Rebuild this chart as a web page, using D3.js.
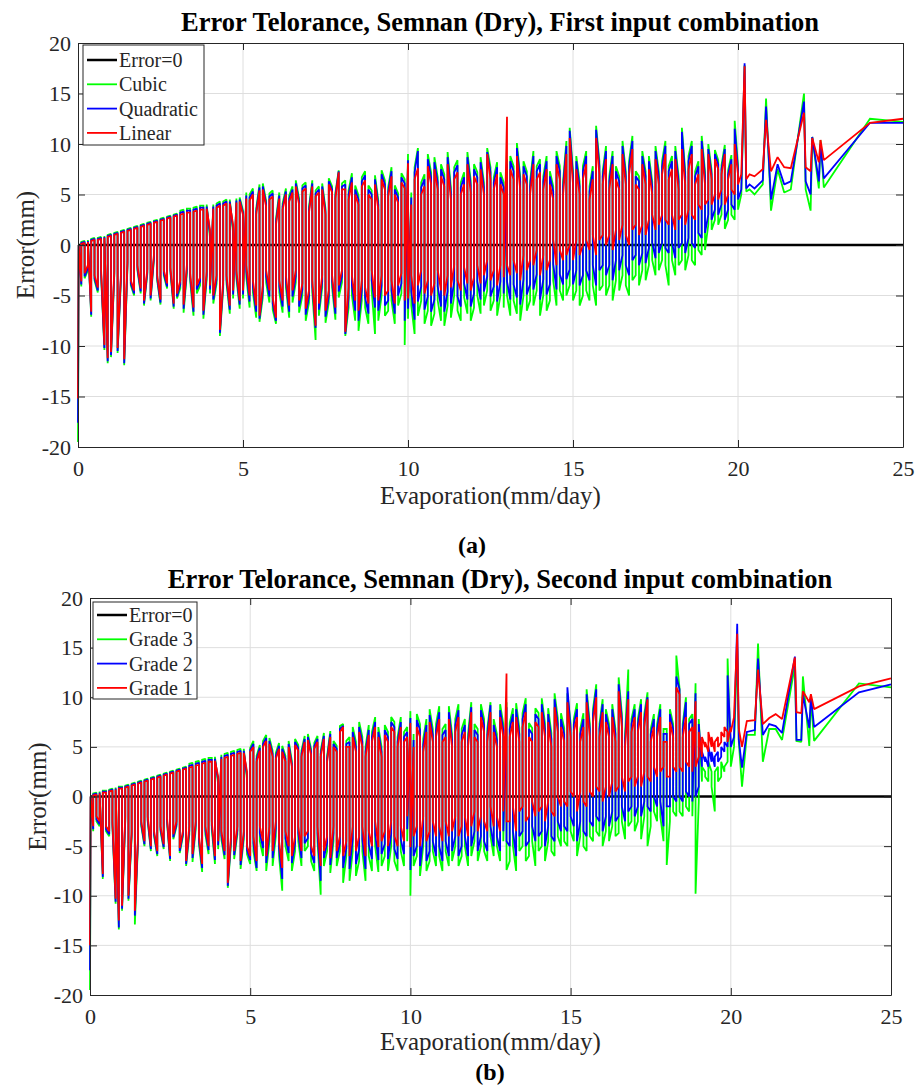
<!DOCTYPE html>
<html>
<head>
<meta charset="utf-8">
<script src="https://cdn.jsdelivr.net/npm/d3@7"></script>
<style>
body { margin: 0; background: #fff; }
svg { display: block; }
</style>
</head>
<body>
<svg id="chart" width="919" height="1086"></svg>
<script>
// observed evaporation (mm/day), shared by both panels; most days come in pairs
const evap = [0, 0.02,
    0.1, 0.1, 0.2, 0.2, 0.3, 0.3, 0.4, 0.4, 0.5, 0.5, 0.6, 0.6, 0.7, 0.7, 0.8, 0.8, 0.9, 0.9, 1.0, 1.0,
    1.1, 1.1, 1.2, 1.2, 1.3, 1.3, 1.4, 1.4, 1.5, 1.5, 1.6, 1.6, 1.7, 1.7, 1.8, 1.8, 1.9, 1.9, 2.0, 2.0,
    2.1, 2.1, 2.2, 2.2, 2.3, 2.3, 2.4, 2.4, 2.5, 2.5, 2.6, 2.6, 2.7, 2.7, 2.8, 2.8, 2.9, 2.9, 3.0, 3.0,
    3.1, 3.1, 3.2, 3.2, 3.3, 3.3, 3.4, 3.4, 3.5, 3.5, 3.6, 3.6, 3.7, 3.7, 3.8, 3.8, 3.9, 3.9, 4.0, 4.0,
    4.1, 4.1, 4.2, 4.2, 4.3, 4.3, 4.4, 4.4, 4.5, 4.5, 4.6, 4.6, 4.7, 4.7, 4.8, 4.8, 4.9, 4.9, 5.0, 5.0,
    5.1, 5.1, 5.2, 5.2, 5.3, 5.3, 5.4, 5.4, 5.5, 5.5, 5.6, 5.6, 5.7, 5.7, 5.8, 5.8, 5.9, 5.9, 6.0, 6.0,
    6.1, 6.1, 6.2, 6.2, 6.3, 6.3, 6.4, 6.4, 6.5, 6.5, 6.6, 6.6, 6.7, 6.7, 6.8, 6.8, 6.9, 6.9, 7.0, 7.0,
    7.1, 7.1, 7.2, 7.2, 7.3, 7.3, 7.4, 7.4, 7.5, 7.5, 7.6, 7.6, 7.7, 7.7, 7.8, 7.8, 7.9, 7.9, 8.0, 8.0,
    8.1, 8.1, 8.2, 8.2, 8.3, 8.3, 8.4, 8.4, 8.5, 8.5, 8.6, 8.6, 8.7, 8.7, 8.8, 8.8, 8.9, 8.9, 9.0, 9.0,
    9.1, 9.1, 9.2, 9.2, 9.3, 9.3, 9.4, 9.4, 9.5, 9.5, 9.6, 9.6, 9.7, 9.7, 9.8, 9.8, 9.9, 9.9, 10.0, 10.0,
    10.1, 10.1, 10.2, 10.2, 10.3, 10.3, 10.4, 10.4, 10.5, 10.5, 10.6, 10.6, 10.7, 10.7, 10.8, 10.8, 10.9, 10.9, 11.0, 11.0,
    11.1, 11.1, 11.2, 11.2, 11.3, 11.3, 11.4, 11.4, 11.5, 11.5, 11.6, 11.6, 11.7, 11.7, 11.8, 11.8, 11.9, 11.9, 12.0, 12.0,
    12.1, 12.1, 12.2, 12.2, 12.3, 12.3, 12.4, 12.4, 12.5, 12.5, 12.6, 12.6, 12.7, 12.7, 12.8, 12.8, 12.9, 12.9, 13.0, 13.0,
    13.1, 13.1, 13.2, 13.2, 13.3, 13.3, 13.4, 13.4, 13.5, 13.5, 13.6, 13.6, 13.7, 13.7, 13.8, 13.8, 13.9, 13.9, 14.0, 14.0,
    14.1, 14.1, 14.2, 14.2, 14.3, 14.3, 14.4, 14.4, 14.5, 14.5, 14.6, 14.6, 14.7, 14.7, 14.8, 14.8, 14.9, 14.9, 15.0, 15.0,
    15.1, 15.1, 15.2, 15.2, 15.3, 15.3, 15.4, 15.4, 15.5, 15.5, 15.6, 15.6, 15.7, 15.7, 15.8, 15.8, 15.9, 15.9, 16.0, 16.0,
    16.1, 16.1, 16.2, 16.2, 16.3, 16.3, 16.4, 16.4, 16.5, 16.5, 16.6, 16.6, 16.7, 16.7, 16.8, 16.8, 16.9, 16.9, 17.0, 17.0,
    17.1, 17.1, 17.2, 17.2, 17.3, 17.3, 17.4, 17.4, 17.5, 17.5, 17.6, 17.6, 17.7, 17.7, 17.8, 17.8, 17.9, 17.9, 18.0, 18.0,
    18.1, 18.1, 18.2, 18.2, 18.3, 18.3, 18.4, 18.4, 18.5, 18.5, 18.6, 18.6, 18.7, 18.7, 18.8, 18.8, 18.9, 18.9, 19.0, 19.0,
    19.1, 19.1, 19.2, 19.2, 19.3, 19.3, 19.4, 19.4, 19.5, 19.5, 19.6, 19.6, 19.7, 19.7, 19.8, 19.8, 19.9, 19.9, 20.0, 20.0,
    20.1,
    20.2, 20.25, 20.35, 20.5, 20.75, 20.85, 21.0, 21.2, 21.4, 21.6, 22.0, 22.05, 22.2, 22.25, 22.45, 22.5, 22.6, 24.0, 25.0]

// panel (a): first input combination, error (mm)
const cubicErr = [-19.5, 0.0,
    -4.1, 0.3, 0.4, -3.3, -2.5, 0.5, -7.1, 0.6, 0.7, -3.5, -4.7, 0.7, 0.8, -3.0, -10.4, 0.9, -11.7, 1.0, 1.1, -11.1,
    -3.0, 1.2, 1.3, -10.7, -3.5, 1.4, 1.5, -11.9, -2.0, 1.6, 1.7, -4.0, -5.0, 1.8, 1.9, -2.5, -4.8, 2.0, 2.1, -6.0,
    -2.9, 2.2, 2.3, -5.5, -1.5, 2.4, 2.5, -3.5, -5.9, 2.6, 2.7, -3.0, -4.3, 2.8, 2.9, -2.7, -6.3, 3.0, 3.1, -5.3,
    -4.3, 3.4, 3.5, -6.7, -2.8, 3.6, 3.6, -3.6, -7.0, 3.7, 3.8, -4.8, -4.0, 3.9, 3.9, -7.3, -3.4, 4.0, 0.7, -4.8,
    4.0, -5.8, -3.8, 4.1, 4.3, -9.0, -4.3, 4.3, 4.5, -3.8, -6.8, 4.5, 1.2, -5.3, 4.6, -3.3, -6.3, 4.7, 3.4, -5.3,
    5.2, -3.2, -6.2, 5.0, 5.6, -4.7, -7.2, 3.6, 6.0, -7.6, -5.2, 6.1, 4.4, -3.7, -5.7, 5.1, 5.4, -6.4, -7.8, 2.6,
    5.2, -4.7, -6.7, 4.1, 5.6, -4.2, -7.2, 4.9, 5.8, -5.7, -3.7, 6.4, 4.6, -6.7, -5.0, 5.9, 6.2, -7.5, -5.7, 3.8,
    6.4, -4.7, -9.4, 5.4, 5.8, -7.0, -4.2, 6.1, 3.6, -7.7, -5.7, 6.6, 5.8, -4.2, -7.4, 5.2, 7.4, -5.2, -3.7, 6.1,
    6.4, -9.0, -6.2, 5.4, 7.1, -5.0, -7.5, 5.9, 4.9, -8.5, -5.5, 6.7, 7.3, -6.2, -7.8, 5.9, 5.4, -4.5, -8.8, 6.9,
    4.4, -7.5, -5.0, 7.4, 6.4, -7.0, -6.5, 5.7, 7.7, -5.5, -7.8, 5.9, 5.1, -6.0, -4.8, 7.1, 6.5, -9.9, 9.0, -7.3,
    5.2, -6.0, -8.8, 7.7, 9.6, -7.0, -5.5, 6.2, 7.0, -7.8, -6.5, 9.0, 7.2, -8.0, -6.8, 8.7, 6.7, -5.5, -7.5, 8.0,
    7.0, -8.0, -6.0, 9.2, 5.7, -7.2, -5.0, 7.7, 8.4, -6.5, -7.5, 6.2, 7.2, -5.2, -6.8, 9.2, 6.4, -7.5, -6.2, 8.0,
    7.2, -5.0, -6.8, 8.7, 6.2, -6.0, -4.5, 9.6, 7.7, -6.5, -5.5, 6.7, 8.2, -7.0, -5.0, 7.2, 6.2, -6.2, 8.5, -5.0,
    -7.0, 8.8, 7.8, -5.5, -6.8, 10.1, 6.8, -7.5, -5.0, 8.3, 7.3, -6.5, -5.5, 6.3, 9.3, -6.0, -4.5, 7.8, 8.5, -7.0,
    -5.0, 6.8, 8.8, -6.5, -5.5, 7.3, 5.8, -3.5, -6.0, 9.3, 7.8, -4.5, -5.5, 6.3, 10.3, -5.0, -4.0, 11.6, 7.3, -5.5,
    -4.5, 8.8, 6.3, -6.0, -5.0, 7.8, 9.3, -4.5, -5.5, 5.8, 7.8, -4.0, -6.0, 11.8, 8.3, -4.5, -4.0, 7.3, 9.8, -5.0,
    -4.0, 6.8, 9.3, -5.5, -3.5, 7.8, 6.8, -4.5, -3.0, 10.3, 7.3, -4.0, -5.0, 8.3, 10.8, -3.5, -3.0, 7.3, 6.8, -4.0,
    -2.5, 9.3, 7.3, -3.5, -2.0, 8.8, 6.3, -1.5, -3.0, 9.8, 7.3, -2.5, -1.5, 8.3, 10.3, -2.0, -4.0, 7.8, 8.8, -1.5,
    -3.0, 9.8, 6.8, -2.0, -1.5, 11.6, 7.3, -2.5, -1.0, 8.8, 10.3, -1.5, -2.0, 7.3, 8.3, -0.5, -1.0, 10.8, 7.3, -0.5,
    2.0, 10.0, 7.4, 1.5, 2.5, 9.4, 8.4, 2.0, 3.0, 7.9, 9.9, 1.6, 2.5, 7.4, 8.9, 3.0, 2.5, 12.3, 7.9, 3.5,
    5.0,
    17.8, 5.3, 5.5, 5.0, 6.0, 14.5, 3.4, 7.5, 5.2, 5.5, 15.0, 5.5, 3.4, 10.7, 5.6, 10.4, 5.7, 12.5, 12.2]
const quadErr = [-17.6, 0.0,
    -3.9, 0.2, 0.3, -3.1, -2.3, 0.4, -6.9, 0.5, 0.6, -3.3, -4.5, 0.6, 0.7, -2.8, -10.2, 0.8, -11.5, 0.9, 1.0, -10.9,
    -2.8, 1.1, 1.2, -10.5, -3.3, 1.3, 1.4, -11.7, -1.8, 1.5, 1.6, -3.8, -4.8, 1.7, 1.8, -2.3, -4.6, 1.9, 2.0, -5.8,
    -2.7, 2.1, 2.2, -5.3, -1.3, 2.3, 2.4, -3.3, -5.7, 2.5, 2.6, -2.8, -4.1, 2.7, 2.8, -2.5, -6.1, 2.9, 3.0, -5.1,
    -3.9, 3.2, 3.3, -6.3, -2.4, 3.4, 3.4, -3.2, -6.6, 3.5, 3.6, -4.4, -3.6, 3.7, 3.7, -6.9, -3.0, 3.8, 1.1, -4.4,
    3.8, -5.4, -3.4, 3.9, 4.1, -8.7, -3.9, 4.1, 4.3, -3.4, -6.4, 4.3, 1.6, -4.9, 4.4, -2.9, -5.9, 4.5, 3.2, -4.9,
    4.9, -2.6, -5.6, 4.7, 5.3, -4.1, -6.6, 3.3, 5.7, -7.3, -4.6, 5.8, 4.1, -3.1, -5.1, 4.8, 5.1, -5.8, -7.5, 2.3,
    4.9, -4.1, -6.1, 3.8, 5.3, -3.6, -6.6, 4.6, 5.5, -5.1, -3.1, 6.1, 4.3, -6.1, -4.4, 5.6, 5.9, -6.9, -5.1, 3.5,
    6.1, -4.1, -8.2, 5.1, 5.5, -6.4, -3.6, 5.8, 3.3, -7.1, -5.1, 6.3, 5.5, -3.6, -6.8, 4.9, 7.3, -4.6, -3.1, 5.8,
    6.0, -8.8, -5.2, 5.0, 6.7, -4.0, -6.5, 5.5, 4.5, -7.5, -4.5, 6.3, 6.9, -5.2, -6.8, 5.5, 5.0, -3.5, -6.2, 6.5,
    4.0, -6.5, -4.0, 7.0, 6.0, -6.0, -5.5, 5.3, 7.3, -4.5, -6.8, 5.5, 4.7, -5.0, -3.8, 6.7, 6.1, -7.5, 8.4, -6.3,
    4.7, -4.6, -7.4, 7.2, 9.3, -5.6, -4.1, 5.7, 6.5, -6.4, -5.1, 8.5, 6.7, -6.6, -5.4, 8.2, 6.2, -4.1, -6.1, 7.5,
    6.5, -6.6, -4.6, 8.7, 5.2, -5.8, -3.6, 7.2, 7.9, -5.1, -6.1, 5.7, 6.7, -3.8, -5.4, 8.7, 5.9, -6.1, -4.8, 7.5,
    6.7, -3.6, -5.4, 8.2, 5.7, -4.6, -3.1, 9.2, 7.2, -5.1, -4.1, 6.2, 7.7, -5.6, -3.6, 6.7, 5.7, -4.8, 8.0, -3.6,
    -5.4, 8.3, 7.3, -3.9, -5.2, 9.6, 6.3, -5.9, -3.4, 7.8, 6.8, -4.9, -3.9, 5.8, 8.8, -4.4, -2.9, 7.3, 8.0, -5.4,
    -3.4, 6.3, 8.3, -4.9, -3.9, 6.8, 5.3, -1.9, -4.4, 8.8, 7.3, -2.9, -3.9, 5.8, 9.8, -3.4, -2.4, 11.3, 6.8, -3.9,
    -2.5, 8.3, 5.8, -4.0, -3.0, 7.3, 8.8, -2.5, -3.5, 5.3, 7.3, -2.0, -4.0, 11.4, 7.8, -2.5, -2.0, 6.8, 9.3, -3.0,
    -2.0, 6.3, 8.8, -3.5, -1.5, 7.3, 6.3, -2.5, -1.0, 9.8, 6.8, -2.0, -3.0, 7.8, 10.3, -1.5, -1.0, 6.8, 6.3, -2.0,
    -0.8, 8.8, 6.8, -1.8, -0.3, 8.3, 5.8, 0.2, -1.3, 9.3, 6.8, -0.8, 0.2, 7.8, 9.8, -0.3, -0.8, 7.3, 8.3, 0.2,
    -1.3, 9.3, 6.3, -0.3, 0.2, 11.2, 6.8, -0.8, 0.7, 8.3, 9.8, 0.2, -0.3, 6.8, 7.8, 1.2, 0.7, 10.3, 6.8, 1.2,
    3.0, 9.5, 7.0, 2.5, 3.5, 9.0, 8.0, 3.0, 4.0, 7.5, 9.5, 2.5, 3.5, 7.0, 8.5, 4.0, 3.5, 11.5, 7.5, 4.5,
    5.5,
    18.0, 5.6, 6.0, 5.6, 6.4, 13.7, 4.5, 8.0, 6.0, 6.3, 14.2, 6.3, 5.0, 10.7, 6.3, 10.0, 6.6, 12.1, 12.1]
const linErr = [-15.2, 0.0,
    -3.6, 0.1, 0.2, -2.8, -2.0, 0.3, -6.6, 0.4, 0.5, -3.0, -4.2, 0.5, 0.6, -2.5, -9.9, 0.7, -11.2, 0.8, 0.9, -10.6,
    -2.5, 1.0, 1.1, -10.2, -3.0, 1.2, 1.3, -11.3, -1.5, 1.4, 1.5, -3.5, -4.5, 1.6, 1.7, -2.0, -4.3, 1.8, 1.9, -5.5,
    -2.4, 2.0, 2.1, -5.0, -1.0, 2.2, 2.3, -3.0, -5.4, 2.4, 2.5, -2.5, -3.8, 2.6, 2.7, -2.2, -5.8, 2.8, 2.9, -4.8,
    -3.5, 3.0, 3.1, -5.9, -2.0, 3.2, 3.2, -2.8, -6.2, 3.3, 3.4, -4.0, -3.2, 3.5, 3.5, -6.5, -2.6, 3.6, 1.5, -4.0,
    3.6, -5.0, -3.0, 3.7, 3.9, -8.4, -3.5, 3.9, 4.1, -3.0, -6.0, 4.1, 2.0, -4.5, 4.2, -2.5, -5.5, 4.3, 3.0, -4.5,
    4.6, -2.0, -5.0, 4.4, 5.0, -3.5, -6.0, 3.0, 5.4, -7.0, -4.0, 5.5, 3.8, -2.5, -4.5, 4.5, 4.8, -5.2, -7.2, 2.0,
    4.6, -3.5, -5.5, 3.5, 5.0, -3.0, -6.0, 4.3, 5.2, -4.5, -2.5, 5.8, 4.0, -5.5, -3.8, 5.3, 5.6, -6.3, -4.5, 3.2,
    5.8, -3.5, -8.0, 4.8, 5.2, -5.8, -3.0, 5.5, 3.0, -6.5, -4.5, 6.0, 5.2, -3.0, -6.2, 4.6, 7.2, -4.0, -2.5, 5.5,
    5.5, -8.6, -4.2, 4.5, 6.2, -3.0, -5.5, 5.0, 4.0, -6.5, -3.5, 5.8, 6.4, -4.2, -5.8, 5.0, 4.5, -2.5, -5.2, 6.0,
    3.5, -5.5, -3.0, 6.5, 5.5, -5.0, -4.5, 4.8, 6.8, -3.5, -5.8, 5.0, 4.2, -4.0, -2.8, 6.2, 5.6, -5.5, 8.1, -5.3,
    4.0, -3.0, -5.8, 6.5, 7.6, -4.0, -2.5, 5.0, 5.8, -4.8, -3.5, 7.8, 6.0, -5.0, -3.8, 7.5, 5.5, -2.5, -4.5, 6.8,
    5.8, -5.0, -3.0, 8.0, 4.5, -4.2, -2.0, 6.5, 7.2, -3.5, -4.5, 5.0, 6.0, -2.2, -3.8, 8.0, 5.2, -4.5, -3.2, 6.8,
    6.0, -2.0, -3.8, 7.5, 5.0, -3.0, -1.5, 9.0, 6.5, -3.5, -2.5, 5.5, 7.0, -4.0, -2.0, 6.0, 5.0, -3.2, 12.7, -2.0,
    -3.0, 7.5, 6.5, -1.5, -2.8, 8.8, 5.5, -3.5, -1.0, 7.0, 6.0, -2.5, -1.5, 5.0, 8.0, -2.0, -0.5, 6.5, 7.2, -3.0,
    -1.0, 5.5, 7.5, -2.5, -1.5, 6.0, 4.5, 0.5, -2.0, 8.0, 6.5, -0.5, -1.5, 5.0, 9.0, -1.0, 0.0, 10.6, 6.0, -1.5,
    0.5, 7.5, 5.0, -1.0, 0.0, 6.5, 8.0, 0.5, -0.5, 4.5, 6.5, 1.0, -1.0, 10.6, 7.0, 0.5, 1.0, 6.0, 8.5, 0.0,
    1.0, 5.5, 8.0, -0.5, 1.5, 6.5, 5.5, 0.5, 2.0, 9.0, 6.0, 1.0, 0.0, 7.0, 9.5, 1.5, 2.0, 6.0, 5.5, 1.0,
    2.0, 8.0, 6.0, 1.0, 2.5, 7.5, 5.0, 3.0, 1.5, 8.5, 6.0, 2.0, 3.0, 7.0, 9.0, 2.5, 2.0, 6.5, 7.5, 3.0,
    1.5, 8.5, 5.5, 2.5, 3.0, 9.5, 6.0, 2.0, 3.5, 7.5, 9.0, 3.0, 2.5, 6.0, 7.0, 4.0, 3.5, 9.5, 6.0, 4.0,
    4.5, 9.0, 6.5, 4.0, 5.0, 8.5, 7.5, 4.5, 5.5, 7.0, 9.0, 4.0, 5.0, 6.5, 8.0, 5.5, 5.0, 10.0, 7.0, 6.0,
    7.0,
    17.7, 6.5, 7.0, 6.8, 7.5, 12.4, 7.3, 8.7, 7.7, 7.6, 13.1, 7.7, 7.3, 10.6, 8.2, 10.4, 8.4, 12.1, 12.5]

// panel (b): second input combination, error (mm)
const grade3Err = [-19.5, 0.0,
    -3.5, 0.3, 0.4, -2.5, -3.0, 0.5, -8.3, 0.6, 0.6, -3.5, -4.0, 0.7, 0.8, -3.0, -10.8, 0.9, -13.4, 1.0, 1.0, -11.5,
    -2.5, 1.1, 1.2, -10.5, -4.0, 1.3, 1.4, -12.9, -4.5, 1.5, 1.6, -3.0, -5.0, 1.7, 1.8, -2.5, -5.5, 1.9, 2.0, -4.0,
    -6.0, 2.1, 2.2, -3.5, -5.3, 2.3, 2.4, -2.5, -6.5, 2.5, 2.6, -4.3, -3.0, 2.7, 2.8, -5.7, -4.0, 2.9, 3.0, -7.0,
    -3.8, 3.3, 3.4, -6.6, -3.3, 3.5, 3.6, -4.8, -7.6, 3.7, 3.8, -3.8, -5.8, 3.9, 3.9, -3.3, -6.8, 4.0, 1.2, -5.3,
    4.2, -4.3, -6.3, 4.3, 4.4, -9.2, -4.8, 4.5, 4.6, -6.3, -3.8, 4.7, 4.8, -7.3, -4.3, 4.8, 1.7, -5.8, -6.8, 4.9,
    5.6, -5.5, -7.5, 4.1, 5.2, -4.5, -6.0, 5.6, 6.2, -7.5, -4.5, 5.9, 4.6, -7.0, -4.0, 4.4, 5.4, -6.0, -9.5, 5.1,
    4.1, -5.0, -6.5, 5.6, 3.6, -7.5, -5.5, 5.8, 5.2, -4.5, -7.0, 4.6, 6.1, -5.5, -5.0, 6.3, 4.8, -6.5, -7.5, 5.4,
    6.1, -4.5, -9.9, 4.6, 6.4, -7.0, -5.5, 4.1, 6.6, -7.7, -4.5, 5.6, 5.1, -7.0, -5.5, 7.1, 7.3, -8.7, -6.0, 5.6,
    6.0, -8.5, -5.5, 7.0, 5.5, -8.0, -6.5, 7.5, 6.0, -5.5, -8.5, 5.0, 7.2, -6.0, -7.5, 6.5, 8.0, -5.0, -7.6, 7.0,
    5.0, -7.0, -6.0, 7.2, 6.5, -7.5, -5.0, 8.0, 7.5, -6.5, -7.5, 6.0, 8.0, -5.5, -7.0, 6.5, 7.0, -4.5, 8.6, -10.0,
    6.3, -7.0, -6.0, 8.3, 7.3, -8.0, -5.0, 5.8, 7.8, -7.5, -6.5, 8.8, 6.8, -5.5, -7.0, 7.3, 9.1, -6.0, -7.5, 6.8,
    7.3, -5.5, -7.0, 9.1, 6.3, -6.5, -5.0, 7.8, 9.3, -7.0, -6.0, 6.8, 7.8, -5.0, -7.0, 6.3, 9.5, -6.0, -4.5, 7.3,
    6.8, -6.5, -5.0, 9.3, 7.8, -5.5, -6.5, 6.8, 9.5, -4.0, -6.0, 7.8, 6.3, -5.0, -6.5, 9.3, 7.3, -4.5, 9.5, -7.4,
    -6.5, 7.4, 8.9, -5.0, -7.5, 9.4, 6.9, -5.5, -5.0, 8.4, 9.9, -6.5, -6.0, 7.4, 6.9, -4.5, -7.0, 8.9, 8.4, -5.5,
    -5.0, 9.9, 7.4, -6.5, -4.5, 8.9, 6.4, -5.5, -6.0, 10.4, 7.9, -4.0, -5.0, 8.4, 6.9, -4.5, -5.0, 10.4, 7.4, -3.5,
    -4.5, 7.8, 9.4, -6.0, -4.0, 6.8, 8.4, -5.0, -5.5, 10.8, 7.3, -4.0, -4.5, 8.8, 11.3, -3.5, -4.0, 7.3, 9.8, -5.0,
    -3.5, 8.8, 7.3, -4.5, -3.0, 9.3, 6.8, -4.0, -3.7, 12.0, 8.3, -2.5, -4.3, 6.3, 12.8, -3.0, -2.5, 7.8, 9.3, -3.5,
    -2.5, 7.8, 9.8, -4.3, -2.0, 8.3, 10.5, -5.0, -3.0, 6.8, 8.3, -1.5, -2.5, 7.3, 9.3, -2.0, -4.5, 6.8, 6.8, -6.9,
    -2.5, 8.8, 7.3, -1.5, -2.0, 14.2, 10.9, -1.5, -2.0, 7.3, 10.0, -1.0, -1.5, 7.8, 8.3, -2.0, 11.4, -9.8, -0.5, 7.8,
    1.5, 3.0, 2.5, 2.0, 1.5, 3.5, 2.5, 1.0, -1.5, 2.5, 3.0, 1.5, 2.0, 3.5, 2.5, 3.0, 3.5, 13.9, 4.0, 3.0,
    5.0,
    15.0, 5.5, 1.0, 6.2, 6.2, 15.4, 3.5, 6.8, 6.8, 5.7, 13.2, 5.6, 5.5, 12.1, 5.1, 9.8, 5.6, 11.4, 11.0]
const grade2Err = [-17.5, 0.0,
    -3.3, 0.2, 0.3, -2.3, -2.8, 0.4, -8.1, 0.5, 0.5, -3.3, -3.8, 0.6, 0.7, -2.8, -10.6, 0.8, -13.2, 0.9, 0.9, -11.3,
    -2.3, 1.0, 1.1, -10.3, -3.8, 1.2, 1.3, -12.0, -4.3, 1.4, 1.5, -2.8, -4.8, 1.6, 1.7, -2.3, -5.3, 1.8, 1.9, -3.8,
    -5.8, 2.0, 2.1, -3.3, -5.1, 2.2, 2.3, -2.3, -6.3, 2.4, 2.5, -4.1, -2.8, 2.6, 2.7, -5.5, -3.8, 2.8, 2.9, -6.8,
    -3.4, 3.1, 3.2, -6.2, -2.9, 3.3, 3.4, -4.4, -7.2, 3.5, 3.6, -3.4, -5.4, 3.7, 3.7, -2.9, -6.4, 3.8, 1.6, -4.9,
    4.0, -3.9, -5.9, 4.1, 4.2, -9.0, -4.4, 4.3, 4.4, -5.9, -3.4, 4.5, 4.6, -6.9, -3.9, 4.6, 2.1, -5.4, -6.4, 4.7,
    5.3, -4.7, -7.2, 3.8, 4.9, -3.7, -5.2, 5.3, 5.9, -6.7, -3.7, 5.6, 4.3, -6.2, -3.2, 4.1, 5.1, -5.2, -8.3, 4.8,
    3.8, -4.2, -5.7, 5.3, 3.3, -6.7, -4.7, 5.5, 4.9, -3.7, -6.2, 4.3, 5.8, -4.7, -4.2, 6.0, 4.5, -5.7, -6.7, 5.1,
    5.8, -3.7, -8.5, 4.3, 6.1, -6.2, -4.7, 3.8, 6.3, -6.9, -3.7, 5.3, 4.8, -6.2, -4.7, 6.8, 7.1, -7.2, -5.2, 5.3,
    5.5, -7.3, -4.3, 6.5, 5.0, -6.8, -5.3, 7.0, 5.5, -4.3, -7.3, 4.5, 6.7, -4.8, -6.3, 6.0, 7.5, -3.8, -6.4, 6.5,
    4.5, -5.8, -4.8, 6.7, 6.0, -6.3, -3.8, 7.5, 7.0, -5.3, -6.3, 5.5, 7.5, -4.3, -5.8, 6.0, 6.5, -3.3, 7.9, -7.4,
    5.7, -6.0, -5.0, 7.7, 6.7, -7.0, -4.0, 5.2, 7.2, -6.5, -5.5, 8.2, 6.2, -4.5, -6.0, 6.7, 8.5, -5.0, -6.5, 6.2,
    6.7, -4.5, -6.0, 8.5, 5.7, -5.5, -4.0, 7.2, 8.7, -6.0, -5.0, 6.2, 7.2, -4.0, -6.0, 5.7, 9.0, -5.0, -3.5, 6.7,
    6.2, -5.5, -4.0, 8.7, 7.2, -4.5, -5.5, 6.2, 9.2, -3.0, -5.0, 7.2, 5.7, -4.0, -5.5, 8.7, 6.7, -3.5, 9.0, -4.5,
    -5.0, 6.8, 8.3, -3.5, -6.0, 8.8, 6.3, -4.0, -3.5, 7.8, 9.3, -5.0, -4.5, 6.8, 6.3, -3.0, -4.5, 8.3, 7.8, -4.0,
    -3.5, 9.3, 6.8, -5.0, -3.0, 8.3, 5.8, -4.0, -4.5, 9.8, 7.3, -2.5, -3.5, 7.8, 6.3, -3.0, -3.5, 11.0, 6.8, -2.0,
    -3.0, 7.3, 8.8, -4.5, -2.5, 6.3, 7.8, -3.5, -4.0, 10.3, 6.8, -2.5, -3.0, 8.3, 10.8, -2.0, -2.5, 6.8, 9.3, -3.5,
    -2.0, 8.3, 6.8, -3.0, -1.5, 8.8, 6.3, -2.5, -2.0, 11.3, 7.8, -1.0, -2.5, 5.8, 10.6, -1.5, -1.0, 7.3, 8.8, -2.0,
    -1.0, 7.3, 9.3, -2.0, -0.5, 7.8, 10.0, -1.0, -1.5, 6.3, 7.8, 0.0, -1.0, 6.8, 8.8, -0.5, -3.0, 6.3, 6.3, -1.0,
    -1.0, 8.3, 6.8, 0.0, -0.5, 12.1, 10.8, 0.0, -0.5, 6.8, 9.5, 0.5, 0.0, 7.3, 7.8, -0.5, 10.4, 0.0, 1.0, 7.3,
    3.0, 4.5, 3.5, 4.0, 3.0, 5.0, 3.5, 4.5, 3.0, 4.0, 4.5, 3.5, 4.0, 5.0, 4.5, 5.5, 5.0, 12.2, 5.5, 5.0,
    6.0,
    17.4, 5.7, 2.9, 6.5, 6.7, 13.9, 6.2, 7.3, 7.1, 6.4, 14.1, 5.7, 5.7, 10.3, 6.9, 10.1, 7.0, 10.5, 11.3]
const grade1Err = [-15.0, 0.0,
    -3.0, 0.1, 0.2, -2.0, -2.5, 0.3, -7.8, 0.4, 0.4, -3.0, -3.5, 0.5, 0.6, -2.5, -10.3, 0.7, -12.5, 0.8, 0.8, -11.0,
    -2.0, 0.9, 1.0, -10.0, -3.5, 1.1, 1.2, -11.5, -4.0, 1.3, 1.4, -2.5, -4.5, 1.5, 1.6, -2.0, -5.0, 1.7, 1.8, -3.5,
    -5.5, 1.9, 2.0, -3.0, -4.8, 2.1, 2.2, -2.0, -6.0, 2.3, 2.4, -3.8, -2.5, 2.5, 2.6, -5.2, -3.5, 2.7, 2.8, -6.5,
    -3.0, 2.9, 3.0, -5.8, -2.5, 3.1, 3.2, -4.0, -6.8, 3.3, 3.4, -3.0, -5.0, 3.5, 3.5, -2.5, -6.0, 3.6, 2.0, -4.5,
    3.8, -3.5, -5.5, 3.9, 4.0, -8.7, -4.0, 4.1, 4.2, -5.5, -3.0, 4.3, 4.4, -6.5, -3.5, 4.4, 2.5, -5.0, -6.0, 4.5,
    5.0, -4.0, -6.5, 3.5, 4.6, -3.0, -4.5, 5.0, 5.6, -6.0, -3.0, 5.3, 4.0, -5.5, -2.5, 3.8, 4.8, -4.5, -7.2, 4.5,
    3.5, -3.5, -5.0, 5.0, 3.0, -6.0, -4.0, 5.2, 4.6, -3.0, -5.5, 4.0, 5.5, -4.0, -3.5, 5.7, 4.2, -5.0, -6.0, 4.8,
    5.5, -3.0, -7.0, 4.0, 5.8, -5.5, -4.0, 3.5, 6.0, -6.2, -3.0, 5.0, 4.5, -5.5, -4.0, 6.5, 7.0, -6.0, -4.5, 5.0,
    5.0, -6.0, -3.0, 6.0, 4.5, -5.5, -4.0, 6.5, 5.0, -3.0, -6.0, 4.0, 6.2, -3.5, -5.0, 5.5, 7.0, -2.5, -5.1, 6.0,
    4.0, -4.5, -3.5, 6.2, 5.5, -5.0, -2.5, 7.0, 6.5, -4.0, -5.0, 5.0, 7.0, -3.0, -4.5, 5.5, 6.0, -2.0, 7.4, -5.1,
    5.0, -4.0, -3.0, 7.0, 6.0, -5.0, -2.0, 4.5, 6.5, -4.5, -3.5, 7.5, 5.5, -2.5, -4.0, 6.0, 7.8, -3.0, -4.5, 5.5,
    6.0, -2.5, -4.0, 7.8, 5.0, -3.5, -2.0, 6.5, 8.0, -4.0, -3.0, 5.5, 6.5, -2.0, -4.0, 5.0, 8.5, -3.0, -1.5, 6.0,
    5.5, -3.5, -2.0, 8.0, 6.5, -2.5, -3.5, 5.5, 8.5, -1.0, -3.0, 6.5, 5.0, -2.0, -3.5, 8.0, 6.0, -1.5, 12.4, -2.5,
    -2.5, 6.0, 7.5, -1.0, -3.5, 8.0, 5.5, -1.5, -1.0, 7.0, 8.5, -2.5, -2.0, 6.0, 5.5, -0.5, -2.0, 7.5, 7.0, -1.5,
    -1.0, 8.5, 6.0, -2.5, -0.5, 7.5, 5.0, -1.5, -2.0, 9.0, 6.5, 0.0, -1.0, 7.0, 5.5, -0.5, -1.0, 9.5, 6.0, 0.5,
    0.0, 6.5, 8.0, -1.5, 0.5, 5.5, 7.0, -0.5, -1.0, 9.5, 6.0, 0.5, 0.0, 7.5, 10.0, 1.0, 0.5, 6.0, 8.5, -0.5,
    1.0, 7.5, 6.0, 0.0, 1.5, 8.0, 5.5, 0.5, 1.0, 10.6, 7.0, 2.0, 0.5, 5.0, 9.8, 1.5, 2.0, 6.5, 8.0, 1.0,
    2.0, 6.5, 8.5, 1.0, 2.5, 7.0, 9.8, 2.0, 1.5, 5.5, 7.0, 3.0, 2.0, 6.0, 8.0, 2.5, 3.0, 5.5, 5.5, 2.0,
    2.0, 7.5, 6.0, 3.0, 2.5, 11.0, 10.3, 3.0, 2.5, 6.0, 8.0, 3.5, 3.0, 6.5, 7.0, 2.5, 9.6, 3.0, 4.0, 6.5,
    4.0, 6.0, 5.0, 5.5, 4.5, 6.5, 5.0, 6.0, 4.5, 5.5, 6.0, 5.0, 5.5, 6.5, 6.0, 7.0, 6.5, 5.5, 7.0, 6.5,
    8.0,
    16.4, 6.8, 5.0, 7.6, 7.7, 12.8, 7.3, 7.9, 8.3, 7.8, 14.0, 8.5, 8.4, 10.6, 9.5, 10.3, 8.8, 11.1, 11.9]

const xTicks = [0, 5, 10, 15, 20, 25]
const yTicks = [-20, -15, -10, -5, 0, 5, 10, 15, 20]
const seriesColors = ['#00ff00', '#0000ff', '#ff0000']

const font = "'Liberation Serif', 'Times New Roman', serif"
const axisColor = '#262626'
const gridColor = '#dedede'

const panels = [
    {
        title: 'Error Telorance, Semnan (Dry), First input combination',
        caption: '(a)',
        left: 78, right: 903, top: 43, bottom: 447,
        titleY: 22, xLabelY: 495, yLabelX: 25, captionX: 472, captionY: 545,
        names: ['Error=0', 'Cubic', 'Quadratic', 'Linear'],
        series: [cubicErr, quadErr, linErr],
        legend: { x: 83, y: 45, w: 121, h: 100, first: 15, row: 24.3 }
    },
    {
        title: 'Error Telorance, Semnan (Dry), Second input combination',
        caption: '(b)',
        left: 90, right: 891, top: 598, bottom: 995,
        titleY: 579, xLabelY: 1041, yLabelX: 37, captionX: 490, captionY: 1072,
        names: ['Error=0', 'Grade 3', 'Grade 2', 'Grade 1'],
        series: [grade3Err, grade2Err, grade1Err],
        legend: { x: 93, y: 602, w: 104, h: 97, first: 13, row: 24.3 }
    }
]

const svg = d3.select('#chart')

function styleAxis (g, size) {
    g.attr('font-family', font).attr('font-size', size)
    g.select('.domain').attr('stroke', axisColor)
    g.selectAll('.tick line').attr('stroke', axisColor)
    g.selectAll('.tick text').attr('fill', axisColor)
}

function drawPanel (p) {
    const x = d3.scaleLinear().domain([0, 25]).range([p.left, p.right])
    const y = d3.scaleLinear().domain([-20, 20]).range([p.bottom, p.top])
    const g = svg.append('g')

    // grid
    g.append('g').selectAll('line')
        .data(xTicks.slice(1, -1))
        .enter()
        .append('line')
        .attr('x1', d => x(d))
        .attr('x2', d => x(d))
        .attr('y1', p.top)
        .attr('y2', p.bottom)
        .attr('stroke', gridColor)
    g.append('g').selectAll('line')
        .data(yTicks.slice(1, -1))
        .enter()
        .append('line')
        .attr('x1', p.left)
        .attr('x2', p.right)
        .attr('y1', d => y(d))
        .attr('y2', d => y(d))
        .attr('stroke', gridColor)

    // Error=0 reference
    g.append('line')
        .attr('x1', x(0))
        .attr('x2', x(25))
        .attr('y1', y(0))
        .attr('y2', y(0))
        .attr('stroke', 'black')
        .attr('stroke-width', 2.5)

    const line = d3.line()
        .x((d, i) => x(evap[i]))
        .y(d => y(d))
    g.append('g').selectAll('path')
        .data(p.series)
        .enter()
        .append('path')
        .attr('d', d => line(d))
        .attr('fill', 'none')
        .attr('stroke', (d, i) => seriesColors[i])
        .attr('stroke-width', 1.8)
        .attr('stroke-linejoin', 'miter')
        .attr('stroke-miterlimit', 1.5)

    // axes, ticks pointing inward on all four sides
    g.append('g')
        .attr('transform', 'translate(0,' + p.bottom + ')')
        .call(d3.axisBottom(x).tickValues(xTicks).tickSize(-7).tickSizeOuter(0).tickPadding(13).tickFormat(d => String(d)))
        .call(ax => styleAxis(ax, 22))
    g.append('g')
        .attr('transform', 'translate(0,' + p.top + ')')
        .call(d3.axisTop(x).tickValues(xTicks).tickSize(-7).tickSizeOuter(0).tickFormat(''))
        .call(ax => styleAxis(ax, 22))
    g.append('g')
        .attr('transform', 'translate(' + p.left + ',0)')
        .call(d3.axisLeft(y).tickValues(yTicks).tickSize(-7).tickSizeOuter(0).tickPadding(7).tickFormat(d => String(d)))
        .call(ax => styleAxis(ax, 22))
    g.append('g')
        .attr('transform', 'translate(' + p.right + ',0)')
        .call(d3.axisRight(y).tickValues(yTicks).tickSize(-7).tickSizeOuter(0).tickFormat(''))
        .call(ax => styleAxis(ax, 22))

    // titles and labels
    g.append('text')
        .text(p.title)
        .attr('x', 500)
        .attr('y', p.titleY)
        .attr('font-family', font)
        .attr('font-size', '26.5px')
        .attr('font-weight', 'bold')
        .attr('fill', 'black')
        .style('text-anchor', 'middle')
        .attr('dominant-baseline', 'central')
    g.append('text')
        .text('Evaporation(mm/day)')
        .attr('x', (p.left + p.right) / 2)
        .attr('y', p.xLabelY)
        .attr('font-family', font)
        .attr('font-size', '25px')
        .attr('fill', axisColor)
        .style('text-anchor', 'middle')
        .attr('dominant-baseline', 'central')
    g.append('text')
        .text('Error(mm)')
        .attr('transform', 'translate(' + p.yLabelX + ',' + (p.top + p.bottom) / 2 + ') rotate(-90)')
        .attr('font-family', font)
        .attr('font-size', '25px')
        .attr('fill', axisColor)
        .style('text-anchor', 'middle')
        .attr('dominant-baseline', 'central')
    g.append('text')
        .text(p.caption)
        .attr('x', p.captionX)
        .attr('y', p.captionY)
        .attr('font-family', font)
        .attr('font-size', '24px')
        .attr('font-weight', 'bold')
        .attr('fill', 'black')
        .style('text-anchor', 'middle')
        .attr('dominant-baseline', 'central')

    // legend
    const lg = g.append('g')
        .attr('transform', 'translate(' + p.legend.x + ',' + p.legend.y + ')')
    lg.append('rect')
        .attr('width', p.legend.w)
        .attr('height', p.legend.h)
        .attr('fill', 'white')
        .attr('stroke', axisColor)
        .attr('stroke-width', 1)
    const item = lg.selectAll('g')
        .data(p.names)
        .enter()
        .append('g')
        .attr('transform', (d, i) => 'translate(0,' + (p.legend.first + i * p.legend.row) + ')')
    item.append('line')
        .attr('x1', 4)
        .attr('x2', 34)
        .attr('stroke', (d, i) => i === 0 ? 'black' : seriesColors[i - 1])
        .attr('stroke-width', (d, i) => i === 0 ? 2.5 : 1.8)
    item.append('text')
        .text(d => d)
        .attr('x', 36)
        .attr('font-family', font)
        .attr('font-size', '20px')
        .attr('fill', axisColor)
        .attr('dominant-baseline', 'central')
}

panels.forEach(drawPanel)
</script>
</body>
</html>
